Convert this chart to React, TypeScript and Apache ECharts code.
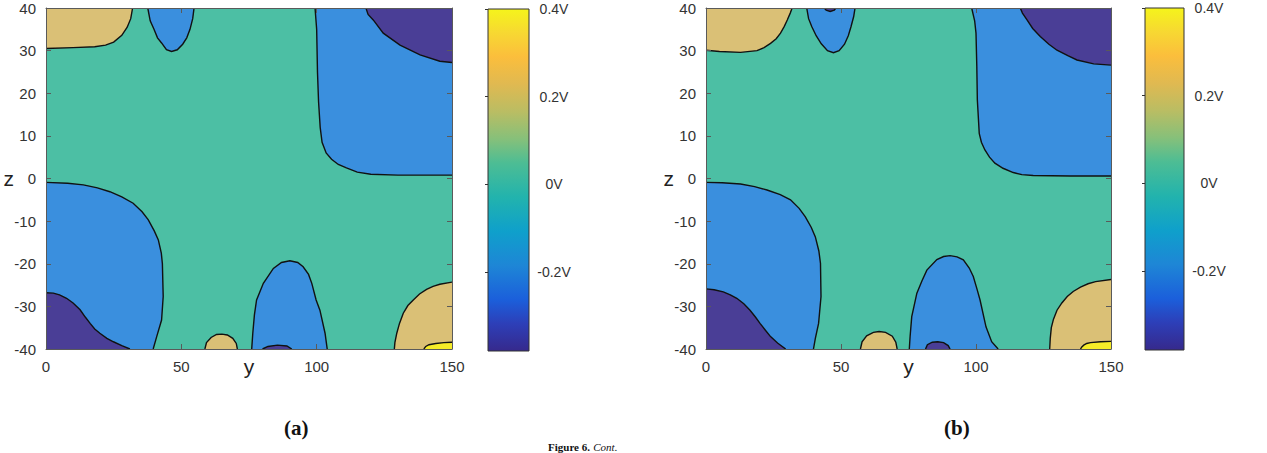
import React, { useEffect, useRef } from "react";
import * as echarts from "echarts";

// ---------- axes ----------
const yRange = [0, 150];
const yInterval = 50;
const zRange = [-40, 40];
const zInterval = 10;
const colorbarRange = [-0.38, 0.4];
const colorbarTicks = [-0.2, 0, 0.2, 0.4];

// ---------- panel (a) contour curves: [y, z] ----------
const aBlueLeft = [[0,-0.9],[8,-1.1],[13.8,-1.5],[19,-2.2],[23.6,-3.1],[28,-4.3],[32.2,-5.8],[35.5,-7.8],[37.8,-9.7],[40,-12.3],[41.5,-14.4],[42.6,-17.5],[43,-20],[43.3,-27.7],[42.7,-33.2],[40.9,-37.1],[39.6,-40]];
const aBlueLeftClose = [[0,-40]];
const aBlueRight = [[99.4,40],[100,35],[100.3,25],[100.7,18],[101.3,12],[102,8.5],[103.5,6],[105.5,4.5],[108,3.3],[111,2.5],[115,1.5],[120,1.0],[130,0.8],[150,0.8]];
const aBlueRightClose = [[150,40]];
const aBlueTop = [[37.6,40],[38.5,37],[39.9,35],[41.2,33],[42.7,31.8],[44.5,30.2],[46.4,29.8],[48.5,30.2],[50.5,31.5],[52,33],[53.2,35],[54.2,37.5],[54.7,40]];
const aBlueHump = [[76,-40],[76.4,-36.3],[77,-32],[77.8,-28.5],[80.3,-24.6],[84,-21.1],[87,-19.7],[90.1,-19.3],[93,-19.7],[95,-20.7],[97,-22.5],[98.2,-24.6],[99.8,-28.5],[101.2,-30.9],[103.1,-36.3],[103.9,-40]];
const aPurpleTopRight = [[118.2,40],[119,38.5],[120.9,37.2],[124.6,34.1],[130.8,31.3],[138.2,29],[145.5,27.5],[150,27.2]];
const aPurpleTopRightClose = [[150,40]];
const aPurpleBottomLeft = [[0,-26.8],[2.7,-26.9],[5,-27.3],[7.6,-28.1],[10,-29.2],[12.6,-30.8],[14.5,-32.5],[16.3,-34],[18,-35.3],[19.9,-36.3],[22.5,-37.5],[24.9,-38.3],[28,-39.2],[31,-40]];
const aPurpleBottomLeftClose = [[0,-40]];
const aPurpleSmall = [[80,-40],[82,-39.4],[85.5,-39.1],[89,-39.3],[90.8,-40]];
const aTanTopLeft = [[0,30.5],[10,30.7],[18,30.9],[22,31.3],[25,32],[28,33.6],[30,35.5],[31.3,37.5],[32,40]];
const aTanTopLeftClose = [[0,40]];
const aTanBump = [[58.7,-40],[59.3,-38.5],[61,-37.3],[63,-36.6],[65,-36.5],[67,-36.7],[69,-37.5],[70.3,-38.7],[70.7,-40]];
const aTanBottomRight = [[128.7,-40],[128.9,-38.5],[129.6,-36.3],[130.6,-34],[132,-31.6],[133.7,-29.8],[135.7,-28.5],[138,-27.1],[140.6,-26],[143,-25.3],[145.5,-24.8],[150,-24.3]];
const aTanBottomRightClose = [[150,-40]];
const aYellow = [[139.6,-40],[140.3,-39.4],[141.5,-39],[144,-38.7],[147,-38.5],[150,-38.4]];
const aYellowClose = [[150,-40]];

// ---------- panel (b) contour curves ----------
const bBlueLeft = [[0,-0.9],[6,-1.0],[12.8,-1.3],[18,-1.9],[22.6,-2.7],[27.5,-3.8],[31.3,-5],[34.5,-7],[36.8,-9],[39,-11.5],[40.5,-13.7],[41.8,-17],[42.4,-19.9],[42.6,-27.7],[41.7,-34],[40.5,-37.5],[39.8,-40]];
const bBlueLeftClose = [[0,-40]];
const bBlueRight = [[98.4,40],[99.5,37],[100,34.1],[100.3,26.2],[100.5,18.4],[101.2,10.6],[102,8.5],[103.3,6.7],[105,5],[107,3.6],[110,2.4],[113.8,1.4],[117,0.9],[121.2,0.7],[135,0.6],[150,0.6]];
const bBlueRightClose = [[150,40]];
const bBlueTop = [[37.3,40],[38,37.5],[39.2,35.6],[40.8,33.5],[42.7,31.6],[45,30],[47.2,29.5],[49.3,30],[51.3,31.5],[52.7,33.5],[53.7,35.6],[54.7,38],[55.2,40]];
const bBlueHump = [[75.3,-40],[75.6,-37],[76.2,-32.4],[78.1,-26.9],[80,-24],[81.8,-21.5],[85.5,-19],[88,-18.3],[90.4,-18.1],[93,-18.4],[95.3,-19.1],[97.5,-21],[99,-23],[100.4,-26],[101.5,-28.5],[103.7,-34.8],[105.8,-38.3],[108.2,-40]];
const bPurpleTopRight = [[116.4,40],[117.2,38.8],[118.9,37.2],[121,35.2],[123.8,33.3],[127,31.5],[130,30.1],[134,28.8],[137.4,27.8],[143.6,26.9],[150,26.6]];
const bPurpleTopRightClose = [[150,40]];
const bPurpleTopSmall = [[43.8,40],[44.5,39.5],[46,39.2],[47.5,39.5],[48.1,40]];
const bPurpleBottomLeft = [[0,-25.9],[3,-26.1],[6.4,-26.6],[9,-27.3],[11.4,-28.1],[14,-29.4],[16.3,-30.9],[18.3,-32.5],[20,-34],[22,-35.6],[23.9,-37.1],[26.5,-38.6],[29.5,-40]];
const bPurpleBottomLeftClose = [[0,-40]];
const bPurpleSmall = [[81.3,-40],[82,-39],[83.8,-38.4],[85.8,-38.3],[88,-38.5],[89.7,-39.2],[90.4,-40]];
const bTanTopLeft = [[0,30.1],[5,29.8],[12.8,29.6],[18.9,30.0],[21.5,30.7],[23.9,31.7],[26,32.8],[27.6,34.1],[29,35.7],[30.1,37.2],[31.2,38.8],[31.9,40]];
const bTanTopLeftClose = [[0,40]];
const bTanBump = [[57.2,-40],[57.8,-38.3],[59.5,-36.9],[62,-36.1],[64.1,-35.9],[66.5,-36.1],[69,-37],[70.3,-38.4],[70.8,-40]];
const bTanBottomRight = [[127.3,-40],[127.5,-37.5],[127.9,-35],[128.7,-33],[130,-30.9],[131.8,-29.2],[133.8,-27.7],[136,-26.5],[138.7,-25.5],[141.5,-24.7],[144.3,-24.2],[150,-23.7]];
const bTanBottomRightClose = [[150,-40]];
const bYellow = [[138.7,-40],[139.2,-39.5],[139.9,-39.1],[141,-38.7],[142.4,-38.5],[146.1,-38.3],[150,-38.2]];
const bYellowClose = [[150,-40]];

// ---------- styles ----------
const BAND_COLORS: Record<string, string> = {
  teal: "#4CBFA4",
  blue: "#3A8FDE",
  purple: "#4A3E96",
  tan: "#DAC076",
  yellow: "#F6EC28",
};
const PARULA = [
  [0.0, "#36298C"], [0.08, "#2D3FB8"], [0.15, "#1B5FDB"], [0.25, "#1E86D6"],
  [0.35, "#0FA0CB"], [0.45, "#22B3AD"], [0.55, "#4DBD94"], [0.62, "#86C07A"],
  [0.7, "#BABD63"], [0.78, "#E0B951"], [0.86, "#FBBE3C"], [0.93, "#F7D832"], [1.0, "#F5F41B"],
];

type Region = { curve: number[][]; close: number[][]; band: string };

const panelA: Region[] = [
  { curve: aBlueLeft, close: aBlueLeftClose, band: "blue" },
  { curve: aBlueRight, close: aBlueRightClose, band: "blue" },
  { curve: aBlueTop, close: [], band: "blue" },
  { curve: aBlueHump, close: [], band: "blue" },
  { curve: aPurpleTopRight, close: aPurpleTopRightClose, band: "purple" },
  { curve: aPurpleBottomLeft, close: aPurpleBottomLeftClose, band: "purple" },
  { curve: aPurpleSmall, close: [], band: "purple" },
  { curve: aTanTopLeft, close: aTanTopLeftClose, band: "tan" },
  { curve: aTanBump, close: [], band: "tan" },
  { curve: aTanBottomRight, close: aTanBottomRightClose, band: "tan" },
  { curve: aYellow, close: aYellowClose, band: "yellow" },
];
const panelB: Region[] = [
  { curve: bBlueLeft, close: bBlueLeftClose, band: "blue" },
  { curve: bBlueRight, close: bBlueRightClose, band: "blue" },
  { curve: bBlueTop, close: [], band: "blue" },
  { curve: bBlueHump, close: [], band: "blue" },
  { curve: bPurpleTopRight, close: bPurpleTopRightClose, band: "purple" },
  { curve: bPurpleTopSmall, close: [], band: "purple" },
  { curve: bPurpleBottomLeft, close: bPurpleBottomLeftClose, band: "purple" },
  { curve: bPurpleSmall, close: [], band: "purple" },
  { curve: bTanTopLeft, close: bTanTopLeftClose, band: "tan" },
  { curve: bTanBump, close: [], band: "tan" },
  { curve: bTanBottomRight, close: bTanBottomRightClose, band: "tan" },
  { curve: bYellow, close: bYellowClose, band: "yellow" },
];

const FONT = "Liberation Sans, Arial, sans-serif";
const AXIS_COLOR = "#5a5a5a";

function contourSeries(regions: Region[], xi: number, yi: number) {
  return {
    type: "custom",
    xAxisIndex: xi,
    yAxisIndex: yi,
    clip: true,
    silent: true,
    z: 2,
    encode: { x: 0, y: 1 },
    data: regions.map((r) => r.curve[0]),
    renderItem: (params: any, api: any) => {
      const r = regions[params.dataIndex];
      const pts = r.curve.map((p) => api.coord(p));
      const closePts = r.close.map((p) => api.coord(p));
      return {
        type: "group",
        children: [
          { type: "polygon", shape: { points: pts.concat(closePts) }, style: { fill: BAND_COLORS[r.band], stroke: null } },
          { type: "polyline", shape: { points: pts }, style: { fill: null, stroke: "#111", lineWidth: 1.4 } },
        ],
      };
    },
  };
}

function colorbarSeries(xi: number, yi: number) {
  return {
    type: "custom",
    xAxisIndex: xi,
    yAxisIndex: yi,
    silent: true,
    z: 2,
    encode: { x: 0, y: 1 },
    data: [[0, colorbarRange[0]]],
    renderItem: (_p: any, api: any) => {
      const p0 = api.coord([0, colorbarRange[0]]);
      const p1 = api.coord([1, colorbarRange[1]]);
      return {
        type: "rect",
        shape: { x: p0[0], y: p1[1], width: p1[0] - p0[0], height: p0[1] - p1[1] },
        style: {
          fill: {
            type: "linear", x: 0, y: 1, x2: 0, y2: 0,
            colorStops: PARULA.map(([o, c]) => ({ offset: o as number, color: c as string })),
          },
          stroke: "#333",
          lineWidth: 1,
        },
      };
    },
  };
}

function panelAxes(gridIndex: number) {
  const line = { show: true, onZero: false, lineStyle: { color: AXIS_COLOR, width: 1 } };
  const tick = { show: true, inside: true, length: 5, lineStyle: { color: AXIS_COLOR } };
  const label = { fontSize: 15, color: "#333", fontFamily: FONT };
  const xs = [
    {
      gridIndex, type: "value", min: yRange[0], max: yRange[1], interval: yInterval, position: "bottom", z: 10,
      axisLine: line, axisTick: tick, splitLine: { show: false },
      axisLabel: { ...label, margin: 10 },
      name: "y", nameLocation: "middle", nameGap: 7, nameMoveOverlap: false,
      nameTextStyle: { fontSize: 21, color: "#222", fontFamily: FONT, verticalAlign: "top" },
    },
    {
      gridIndex, type: "value", min: yRange[0], max: yRange[1], interval: yInterval, position: "top", z: 10,
      axisLine: line, axisTick: tick, splitLine: { show: false }, axisLabel: { show: false },
    },
  ];
  const ys = [
    {
      gridIndex, type: "value", min: zRange[0], max: zRange[1], interval: zInterval, position: "left", z: 10,
      axisLine: line, axisTick: tick, splitLine: { show: false },
      axisLabel: { ...label, margin: 10 },
      name: "z", nameLocation: "middle", nameGap: 32, nameRotate: 0, nameMoveOverlap: false,
      nameTextStyle: { fontSize: 21, color: "#222", fontFamily: FONT },
    },
    {
      gridIndex, type: "value", min: zRange[0], max: zRange[1], interval: zInterval, position: "right", z: 10,
      axisLine: line, axisTick: tick, splitLine: { show: false }, axisLabel: { show: false },
    },
  ];
  return { xs, ys };
}

function colorbarAxes(gridIndex: number) {
  return {
    x: { gridIndex, type: "value", min: 0, max: 1, show: false },
    y: {
      gridIndex, type: "value", min: colorbarRange[0], max: colorbarRange[1], position: "right", z: 10,
      axisLine: { show: false }, splitLine: { show: false },
      axisTick: { show: true, inside: true, length: 3, customValues: colorbarTicks, lineStyle: { color: "#333" } },
      axisLabel: {
        customValues: colorbarTicks, margin: 25, align: "center", fontSize: 14, color: "#333", fontFamily: FONT,
        formatter: (v: number) => `${Math.round(v * 10) / 10}V`,
      },
    },
  };
}

export default function App() {
  const ref = useRef<HTMLDivElement>(null);
  useEffect(() => {
    if (!ref.current) return;
    const chart = echarts.init(ref.current, null, { renderer: "svg" });
    const pa = panelAxes(0);
    const ca = colorbarAxes(1);
    const pb = panelAxes(2);
    const cb = colorbarAxes(3);
    const option: any = {
      animation: false,
      backgroundColor: "#ffffff",
      grid: [
        { left: 46, top: 8, width: 406, height: 341, show: true, backgroundColor: BAND_COLORS.teal, borderWidth: 0 },
        { left: 488, top: 9, width: 41, height: 342 },
        { left: 706, top: 8, width: 405, height: 341, show: true, backgroundColor: BAND_COLORS.teal, borderWidth: 0 },
        { left: 1145, top: 8, width: 39, height: 342 },
      ],
      xAxis: [...pa.xs, ca.x, ...pb.xs, cb.x],
      yAxis: [...pa.ys, ca.y, ...pb.ys, cb.y],
      series: [
        contourSeries(panelA, 0, 0),
        colorbarSeries(2, 2),
        contourSeries(panelB, 3, 3),
        colorbarSeries(5, 5),
      ],
      graphic: [
        { type: "text", left: 284, top: 417, style: { text: "(a)", font: "bold 21px 'Liberation Serif', serif", fill: "#111" } },
        { type: "text", left: 944, top: 417, style: { text: "(b)", font: "bold 21px 'Liberation Serif', serif", fill: "#111" } },
        {
          type: "text", left: 548, top: 441,
          style: {
            text: "{b|Figure 6.} {r|Cont.}",
            rich: {
              b: { font: "bold 11px 'Liberation Serif', serif", fill: "#111" },
              r: { font: "italic 11px 'Liberation Serif', serif", fill: "#111" },
            },
          },
        },
      ],
    };
    chart.setOption(option);
    return () => chart.dispose();
  }, []);
  return <div ref={ref} style={{ position: "absolute", left: 0, top: 0, width: 1267, height: 453 }} />;
}
